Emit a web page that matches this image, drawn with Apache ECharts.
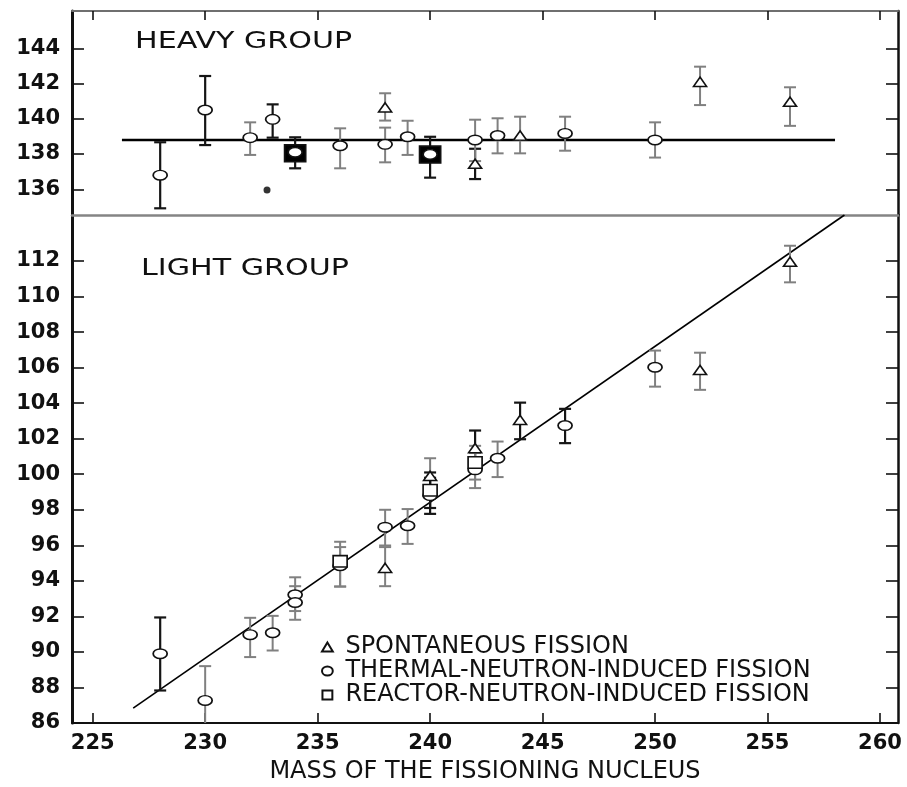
<!DOCTYPE html>
<html><head><meta charset="utf-8">
<script src="https://cdn.jsdelivr.net/npm/echarts@6/dist/echarts.min.js"></script>
<style>html,body{margin:0;padding:0;background:#fff}#c{width:907px;height:787px}</style>
</head><body><div id="c"></div>
<script>
// ---- axes ----
const massTicks = [225, 230, 235, 240, 245, 250, 255, 260];
const heavyTicks = [136, 138, 140, 142, 144];
const lightTicks = [86, 88, 90, 92, 94, 96, 98, 100, 102, 104, 106, 108, 110, 112];

// ---- heavy group: [mass, value, low, high] ----
const heavySpontaneous = [
  [238, 140.65, 139.9, 141.45],
  [242, 137.45, 136.58, 138.3],
  [244, 139.05, 138.04, 140.12],
  [252, 142.1, 140.78, 142.96],
  [256, 140.97, 139.6, 141.79]
];
const heavyThermal = [
  [228, 136.8, 134.92, 138.67],
  [230, 140.5, 138.51, 142.43],
  [232, 138.93, 137.95, 139.8],
  [233, 139.97, 138.93, 140.82],
  [234, 138.1, null, null],
  [236, 138.47, 137.19, 139.46],
  [238, 138.55, 137.53, 139.5],
  [239, 138.98, 137.95, 139.89],
  [240, 137.98, null, null],
  [242, 138.8, 137.6, 139.95],
  [243, 139.05, 138.04, 140.03],
  [246, 139.17, 138.19, 140.12],
  [250, 138.8, 137.8, 139.8]
];
const heavyReactor = [
  [234, 138.05, 137.19, 138.95],
  [240, 137.97, 136.66, 138.98]
];
const heavyOther = [[232.75, 135.96]];
const heavyFit = [[226.3, 138.8], [258.0, 138.8]];

// ---- light group: [mass, value, low, high] ----
const lightSpontaneous = [
  [238, 94.73, 93.7, 95.9],
  [240, 99.91, 99.0, 100.9],
  [242, 101.47, 100.6, 102.46],
  [244, 103.06, 101.97, 104.03],
  [252, 105.87, 104.75, 106.84],
  [256, 111.96, 110.8, 112.86]
];
const lightThermal = [
  [228, 89.9, 87.83, 91.94],
  [230, 87.27, 85.3, 89.2],
  [232, 90.97, 89.71, 91.92],
  [233, 91.08, 90.08, 92.03],
  [234, 93.22, 92.3, 94.2],
  [234, 92.78, 91.81, 93.7],
  [236, 94.85, 93.68, 95.9],
  [238, 97.02, 95.99, 98.0],
  [239, 97.1, 96.08, 98.04],
  [240, 98.8, 97.77, 99.8],
  [242, 100.25, 99.22, 101.2],
  [243, 100.9, 99.84, 101.84],
  [246, 102.74, 101.75, 103.68],
  [250, 106.02, 104.93, 106.96]
];
const lightReactor = [
  [236, 95.1, 93.68, 96.2],
  [240, 99.1, 98.1, 100.1],
  [242, 100.66, 99.7, 101.6]
];
const lightFit = [[226.8, 86.84], [258.42, 114.59]];

// masses whose error bars are printed dark rather than grey
const darkHeavySpontaneous = [242];
const darkHeavyThermal = [228, 230, 233];
const darkHeavyReactor = [234, 240];
const darkLightSpontaneous = [242, 244];
const darkLightThermal = [228, 240, 246];
const darkLightReactor = [240];

const NAME_S = 'SPONTANEOUS FISSION';
const NAME_T = 'THERMAL-NEUTRON-INDUCED FISSION';
const NAME_R = 'REACTOR-NEUTRON-INDUCED FISSION';

const TRI = 'path://M6,0L12,10L0,10Z';
const ELL = 'path://M0,5A6,5,0,1,1,12,5A6,5,0,1,1,0,5Z';
const SQR = 'path://M0,0L11,0L11,10L0,10Z';
const FONT = 'DejaVu Sans';
const INK = '#111';

const XMIN = 224.08, XMAX = 260.8;

function errSeries(rows, dark, xi, yi) {
  return {
    type: 'custom', xAxisIndex: xi, yAxisIndex: yi, z: 2, silent: true, clip: true,
    data: rows.map(r => [r[0], r[2], r[3]]),
    encode: { x: 0, y: [1, 2] },
    renderItem: function (params, api) {
      const x = api.value(0), lo = api.value(1), hi = api.value(2);
      if (isNaN(lo) || isNaN(hi)) return null;
      const p1 = api.coord([x, hi]), p2 = api.coord([x, lo]);
      const isDark = dark.indexOf(x) >= 0;
      const st = { stroke: isDark ? '#151515' : '#808080', lineWidth: isDark ? 2.2 : 2 };
      const w = 6;
      return { type: 'group', children: [
        { type: 'line', shape: { x1: p1[0], y1: p1[1], x2: p2[0], y2: p2[1] }, style: st },
        { type: 'line', shape: { x1: p1[0] - w, y1: p1[1], x2: p1[0] + w, y2: p1[1] }, style: st },
        { type: 'line', shape: { x1: p2[0] - w, y1: p2[1], x2: p2[0] + w, y2: p2[1] }, style: st }
      ]};
    }
  };
}
function markSeries(name, rows, symbol, size, xi, yi, fill) {
  return {
    type: 'scatter', name: name, xAxisIndex: xi, yAxisIndex: yi, z: 3, silent: true,
    symbol: symbol, symbolSize: size, symbolKeepAspect: true,
    data: rows.map(r => [r[0], r[1]]),
    itemStyle: { color: fill || '#fff', borderColor: INK, borderWidth: 1.6, opacity: 1 },
    emphasis: { disabled: true }
  };
}

const chart = echarts.init(document.getElementById('c'), null, { renderer: 'canvas' });
const tickLine = { color: INK, width: 1.6 };
const yLabel = { show: true, fontFamily: FONT, fontWeight: 'bold', fontSize: 21, color: INK, margin: 12 };

chart.setOption({
  animation: false,
  backgroundColor: '#fff',
  grid: [
    { left: 72, right: 9, top: 11, height: 204, containLabel: false, outerBoundsMode: 'none' },
    { left: 72, right: 9, top: 215, height: 508, containLabel: false, outerBoundsMode: 'none' }
  ],
  xAxis: [
    { gridIndex: 0, type: 'value', position: 'top', min: XMIN, max: XMAX,
      axisLine: { show: true, onZero: false, lineStyle: { color: '#6f6f6f', width: 2 } },
      axisTick: { show: true, inside: true, length: 9, customValues: massTicks, lineStyle: tickLine },
      axisLabel: { show: false }, splitLine: { show: false } },
    { gridIndex: 0, type: 'value', position: 'bottom', min: XMIN, max: XMAX,
      axisLine: { show: true, onZero: false, lineStyle: { color: '#858585', width: 2.5 } },
      axisTick: { show: false }, axisLabel: { show: false }, splitLine: { show: false } },
    { gridIndex: 1, type: 'value', position: 'bottom', min: XMIN, max: XMAX,
      axisLine: { show: true, onZero: false, lineStyle: { color: INK, width: 2 } },
      axisTick: { show: true, inside: true, length: 10, customValues: massTicks, lineStyle: tickLine },
      axisLabel: { show: true, customValues: massTicks, fontFamily: FONT, fontWeight: 'bold', fontSize: 21, color: INK, margin: 10 },
      splitLine: { show: false },
      name: 'MASS OF THE FISSIONING NUCLEUS', nameLocation: 'middle', nameGap: 37, nameMoveOverlap: false,
      nameTextStyle: { fontFamily: FONT, fontSize: 24, color: INK } }
  ],
  yAxis: [
    { gridIndex: 0, type: 'value', position: 'left', min: 134.54, max: 146.12,
      axisLine: { show: true, onZero: false, lineStyle: { color: INK, width: 3 } },
      axisTick: { show: true, inside: true, length: 12, customValues: heavyTicks, lineStyle: tickLine },
      axisLabel: Object.assign({ customValues: heavyTicks }, yLabel), splitLine: { show: false } },
    { gridIndex: 0, type: 'value', position: 'right', min: 134.54, max: 146.12,
      axisLine: { show: true, onZero: false, lineStyle: { color: INK, width: 2.5 } },
      axisTick: { show: true, inside: true, length: 12, customValues: heavyTicks, lineStyle: tickLine },
      axisLabel: { show: false }, splitLine: { show: false } },
    { gridIndex: 1, type: 'value', position: 'left', min: 86, max: 114.59,
      axisLine: { show: true, onZero: false, lineStyle: { color: INK, width: 3 } },
      axisTick: { show: true, inside: true, length: 12, customValues: lightTicks, lineStyle: tickLine },
      axisLabel: Object.assign({ customValues: lightTicks }, yLabel), splitLine: { show: false } },
    { gridIndex: 1, type: 'value', position: 'right', min: 86, max: 114.59,
      axisLine: { show: true, onZero: false, lineStyle: { color: INK, width: 2.5 } },
      axisTick: { show: true, inside: true, length: 12, customValues: lightTicks, lineStyle: tickLine },
      axisLabel: { show: false }, splitLine: { show: false } }
  ],
  legend: {
    orient: 'vertical', left: 321, top: 635, padding: 0, itemGap: 0,
    itemWidth: 12, itemHeight: 9, selectedMode: false,
    textStyle: { fontFamily: FONT, fontSize: 24, color: INK, lineHeight: 20, padding: [0, 0, 0, 7] },
    data: [ { name: NAME_S, icon: TRI }, { name: NAME_T, icon: ELL }, { name: NAME_R, icon: SQR } ]
  },
  graphic: [
    { type: 'text', x: 135, y: 42, scaleX: 1.31, silent: true,
      style: { text: 'HEAVY GROUP', fontFamily: FONT, fontSize: 23, fill: INK, textVerticalAlign: 'middle', verticalAlign: 'middle' } },
    { type: 'text', x: 141, y: 269, scaleX: 1.31, silent: true,
      style: { text: 'LIGHT GROUP', fontFamily: FONT, fontSize: 23, fill: INK, textVerticalAlign: 'middle', verticalAlign: 'middle' } }
  ],
  series: [
    { type: 'line', name: 'heavy fit', xAxisIndex: 0, yAxisIndex: 0, data: heavyFit, showSymbol: false, silent: true, z: 1,
      lineStyle: { color: '#000', width: 2.6 } },
    { type: 'line', name: 'light fit', xAxisIndex: 2, yAxisIndex: 2, data: lightFit, showSymbol: false, silent: true, z: 1,
      lineStyle: { color: '#000', width: 1.6 } },
    errSeries(lightSpontaneous, darkLightSpontaneous, 2, 2),
    errSeries(lightThermal, darkLightThermal, 2, 2),
    errSeries(lightReactor, darkLightReactor, 2, 2),
    errSeries(heavySpontaneous, darkHeavySpontaneous, 0, 0),
    errSeries(heavyThermal, darkHeavyThermal, 0, 0),
    errSeries(heavyReactor, darkHeavyReactor, 0, 0),
    markSeries(NAME_S, lightSpontaneous, TRI, [13, 11], 2, 2),
    markSeries(NAME_T, lightThermal, ELL, [14, 11.5], 2, 2),
    markSeries(NAME_R, lightReactor, SQR, [14, 12.5], 2, 2),
    markSeries('reactor (heavy, filled)', heavyReactor, 'rect', [21, 17], 0, 0, '#000'),
    markSeries(NAME_S + ' ', heavySpontaneous, TRI, [13, 11], 0, 0),
    markSeries(NAME_T + ' ', heavyThermal, ELL, [14, 11.5], 0, 0),
    { type: 'scatter', name: 'other', xAxisIndex: 0, yAxisIndex: 0, z: 3, silent: true,
      symbol: 'circle', symbolSize: 7, data: heavyOther, itemStyle: { color: '#000' } }
  ]
});
</script>
</body></html>
